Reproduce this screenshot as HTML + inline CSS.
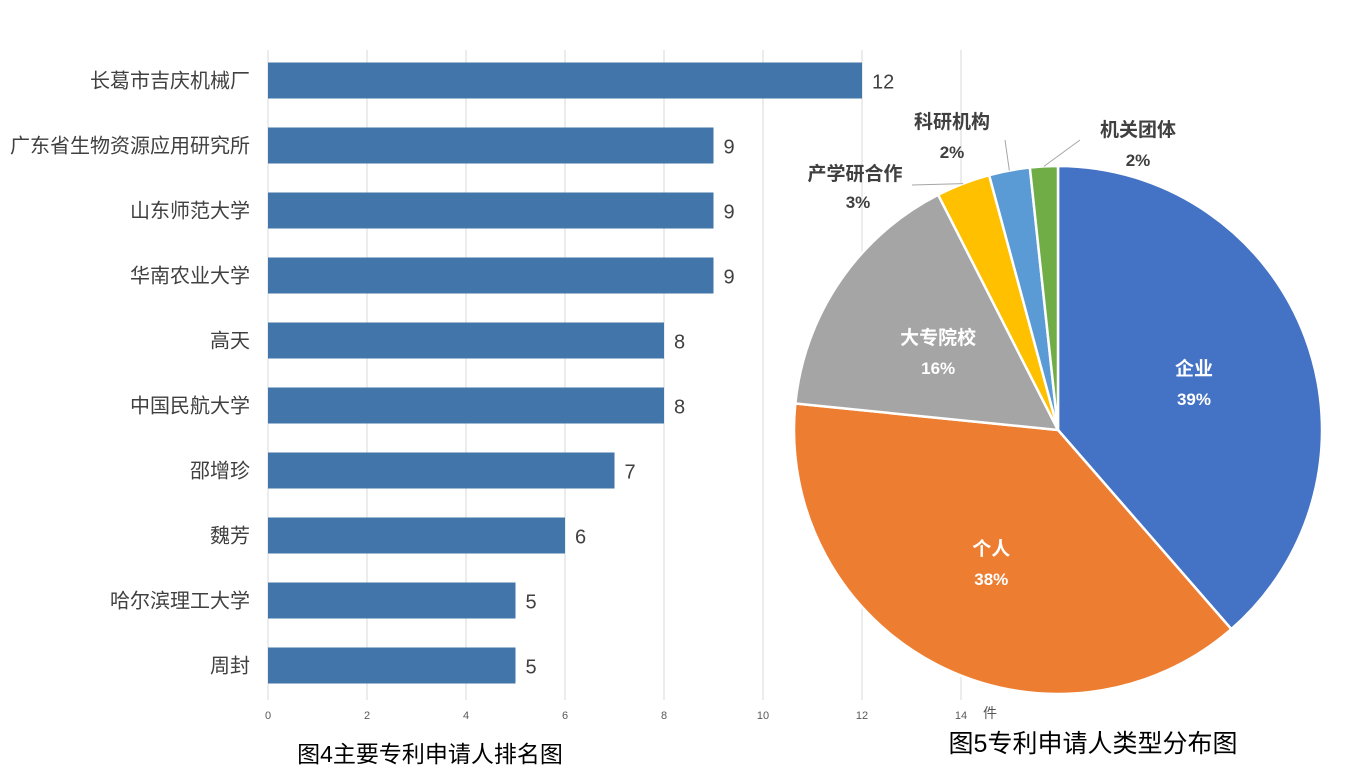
<!DOCTYPE html>
<html><head><meta charset="utf-8"><style>
body{margin:0;background:#fff;width:1350px;height:783px;overflow:hidden;font-family:"Liberation Sans","Noto Sans CJK SC",sans-serif;}
svg{position:absolute;left:0;top:0}
</style></head><body>
<svg width="1350" height="783" id="svg">
<g id="bar"></g>
<g id="pie"></g>
<text x="430" y="762" text-anchor="middle" font-size="23" fill="#000" font-family="Liberation Sans,Noto Sans CJK SC,sans-serif">图4主要专利申请人排名图</text>
<text x="1093" y="752" text-anchor="middle" font-size="25" fill="#000" font-family="Liberation Sans,Noto Sans CJK SC,sans-serif">图5专利申请人类型分布图</text>
<text x="990" y="718" text-anchor="middle" font-size="14" fill="#555" font-family="Liberation Sans,Noto Sans CJK SC,sans-serif">件</text>
</svg>
<script>
const categories=["长葛市吉庆机械厂","广东省生物资源应用研究所","山东师范大学","华南农业大学","高天","中国民航大学","邵增珍","魏芳","哈尔滨理工大学","周封"];
const values=[12,9,9,9,8,8,7,6,5,5];
const ticks=[0,2,4,6,8,10,12,14];
const pieLabels=["企业","个人","大专院校","产学研合作","科研机构","机关团体"];
const pieValues=[38.6,38,15.9,3.3,2.5,1.7];
const piePct=["39%","38%","16%","3%","2%","2%"];
const pieColors=["#4472c4","#ed7d31","#a5a5a5","#ffc000","#5b9bd5","#70ad47"];
const NS="http://www.w3.org/2000/svg";
function mk(p,t,a){const e=document.createElementNS(NS,t);for(const k in a)e.setAttribute(k,a[k]);p.appendChild(e);return e;}
const F='Liberation Sans,Noto Sans CJK SC,sans-serif';
const barG=document.getElementById('bar');
const x0=268,ux=49.5,plotTop=50,plotBottom=700;
const xs=v=>x0+v*ux;
const band=(plotBottom-plotTop)/categories.length;
ticks.forEach(t=>{
 const l=mk(barG,'line',{x1:xs(t),x2:xs(t),y1:plotTop,y2:plotBottom,stroke:'#d9d9d9','stroke-width':1});
 
 
 const tx=mk(barG,'text',{x:xs(t),y:719,'text-anchor':'middle','font-size':11,fill:'#595959','font-family':F});
 tx.textContent=t;
 
 
});
categories.forEach((c,i)=>{
 const cy=plotTop+band*(i+0.5)-2;
 const r=mk(barG,'rect',{x:xs(0),y:cy-18,width:xs(values[i])-xs(0),height:36,fill:'#4276aa'});
 
 
 const lb=mk(barG,'text',{x:250,y:cy+7,'text-anchor':'end','font-size':20,fill:'#404040','font-family':F});
 lb.textContent=c;
 
 
 const vl=mk(barG,'text',{x:xs(values[i])+10,y:cy+8,'font-size':20,fill:'#404040','font-family':F});
 vl.textContent=values[i];
 
 
});
const pieG=document.getElementById('pie');
const pcx=1058,pcy=430,R=264;
const tot=pieValues.reduce((a,b)=>a+b,0);
let acc=0;
const pt=(a,r)=>[pcx+r*Math.sin(a),pcy-r*Math.cos(a)];
const outside=[null,null,null,[855,180,858,208],[952,128,952,158],[1138,136,1138,166]];
const leaderEnd=[null,null,null,[912,185],[1005,140],[1080,140]];
pieValues.forEach((v,i)=>{
 const a0=acc/tot*2*Math.PI;acc+=v;const a1=acc/tot*2*Math.PI;
 const [x1,y1]=pt(a0,R),[x2,y2]=pt(a1,R);
 const large=(a1-a0)>Math.PI?1:0;
 const p=mk(pieG,'path',{d:`M${pcx},${pcy}L${x1},${y1}A${R},${R} 0 ${large} 1 ${x2},${y2}Z`,fill:pieColors[i],stroke:'#fff','stroke-width':2.5});
 
 
 const am=(a0+a1)/2;
 if(i<3){
  const [lx,ly]=pt(am,R*0.55);
  const t1=mk(pieG,'text',{x:lx,y:ly-4,'text-anchor':'middle','font-size':19,'font-weight':'bold',fill:'#fff','font-family':F});
  t1.textContent=pieLabels[i];
  
  
  const t2=mk(pieG,'text',{x:lx,y:ly+26,'text-anchor':'middle','font-size':17,'font-weight':'bold',fill:'#fff','font-family':F});
  t2.textContent=piePct[i];
  
  
 } else {
  const o=outside[i];
  const [ex,ey]=pt(am,R);
  const le=leaderEnd[i];
  const ln=mk(pieG,'polyline',{points:`${ex},${ey} ${le[0]},${le[1]}`,fill:'none',stroke:'#a6a6a6','stroke-width':1});
  
  
  const t1=mk(pieG,'text',{x:o[0],y:o[1],'text-anchor':'middle','font-size':19,'font-weight':'bold',fill:'#404040','font-family':F});
  t1.textContent=pieLabels[i];
  
  
  const t2=mk(pieG,'text',{x:o[2],y:o[3],'text-anchor':'middle','font-size':17,'font-weight':'bold',fill:'#404040','font-family':F});
  t2.textContent=piePct[i];
  
  
 }
});
</script>
</body></html>
